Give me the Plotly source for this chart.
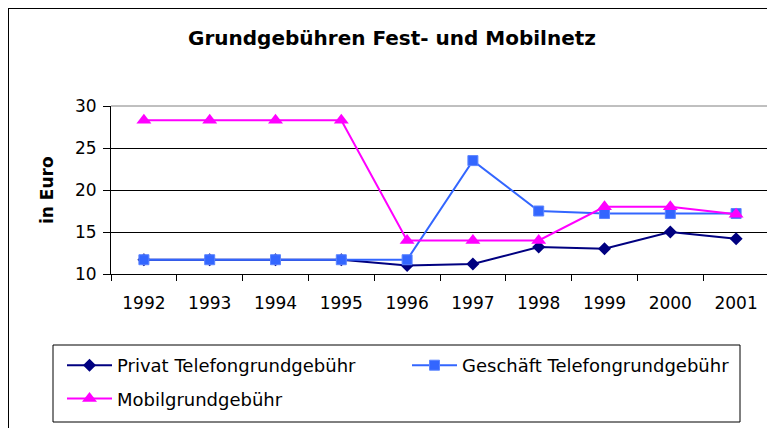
import plotly.graph_objects as go

years = ["1992", "1993", "1994", "1995", "1996", "1997", "1998", "1999", "2000", "2001"]
privat = [11.7, 11.7, 11.7, 11.7, 11.0, 11.2, 13.2, 13.0, 15.0, 14.2]
geschaeft = [11.7, 11.7, 11.7, 11.7, 11.7, 23.5, 17.5, 17.2, 17.2, 17.2]
mobil = [28.3, 28.3, 28.3, 28.3, 14.0, 14.0, 14.0, 18.0, 18.0, 17.1]

W, H = 775, 428
OFF = 8  # page body offset
L, R, T, B = 103, 14, 98, 162
pw = W - L - R
ph = H - T - B

def px(xs):
    return (xs - OFF - L) / pw

def py(ys):
    return (H - B - (ys - OFF)) / ph

font = "DejaVu Sans, Liberation Sans, Arial, sans-serif"

fig = go.Figure()
fig.add_trace(go.Scatter(x=years, y=privat, name="Privat Telefongrundgebühr", mode="lines+markers",
                         line=dict(color="#000080", width=2), legend="legend", legendgroup="a",
                         marker=dict(symbol="diamond", size=10, color="#000080")))
fig.add_trace(go.Scatter(x=years, y=geschaeft, name="Geschäft Telefongrundgebühr", mode="lines+markers",
                         line=dict(color="#3366FF", width=2), legend="legend2", legendgroup="b",
                         marker=dict(symbol="square", size=10, color="#3366FF",
                                     line=dict(color="#5C85FF", width=1))))
fig.add_trace(go.Scatter(x=years, y=mobil, name="Mobilgrundgebühr", mode="lines+markers",
                         line=dict(color="#FF00FF", width=2), legend="legend", legendgroup="c",
                         marker=dict(symbol="triangle-up", size=13, color="#FF00FF")))

fig.update_layout(
    width=W, height=H,
    margin=dict(l=L, r=R, t=T, b=B, autoexpand=False),
    paper_bgcolor="white", plot_bgcolor="white",
    font=dict(family=font, size=17, color="black"),
    title=dict(text="<b>Grundgebühren Fest- und Mobilnetz</b>", xref="container", x=(392 - OFF) / W,
               xanchor="center", yref="container", y=1 - (38 - OFF) / H, yanchor="middle",
               font=dict(size=20, family=font)),
    xaxis=dict(type="category", range=[-0.5, 9.5], showline=True, linecolor="black", linewidth=1,
               ticks="outside", tickson="boundaries", ticklen=6, tickcolor="black",
               showgrid=False, tickfont=dict(size=17), ticklabelstandoff=14),
    yaxis=dict(range=[10, 30], tickvals=[10, 15, 20, 25, 30], showline=True, linecolor="black",
               linewidth=1, ticks="outside", ticklen=7, tickcolor="black",
               showgrid=True, gridcolor="black", gridwidth=1, zeroline=False,
               tickfont=dict(size=17), ticklabelstandoff=3),
    legend=dict(orientation="v", x=px(62), y=py(347), xanchor="left", yanchor="top",
                borderwidth=0, bgcolor="rgba(0,0,0,0)", font=dict(size=18),
                itemwidth=45, tracegroupgap=7),
    legend2=dict(orientation="v", x=px(407), y=py(347), xanchor="left", yanchor="top",
                 borderwidth=0, bgcolor="rgba(0,0,0,0)", font=dict(size=18),
                 itemwidth=45),
    showlegend=True,
)

fig.add_annotation(text="<b>in Euro</b>", xref="paper", yref="paper", x=px(47), y=py(190),
                   textangle=-90, showarrow=False, font=dict(size=17, family=font),
                   xanchor="center", yanchor="middle")

# gray top and right border of plot area
fig.add_shape(type="line", xref="paper", yref="paper", x0=1, x1=1, y0=0, y1=1,
              line=dict(color="#808080", width=1))
fig.add_shape(type="line", xref="paper", yref="paper", x0=0, x1=1, y0=1, y1=1,
              line=dict(color="#808080", width=1))
# legend frame
fig.add_shape(type="rect", xref="paper", yref="paper", x0=px(53), x1=px(740), y0=py(422), y1=py(345),
              line=dict(color="black", width=1))
# outer chart border
fig.add_shape(type="rect", xref="paper", yref="paper", x0=px(8), x1=px(800), y0=py(460), y1=py(8),
              line=dict(color="black", width=2), layer="below")

fig.write_html("out.html")
